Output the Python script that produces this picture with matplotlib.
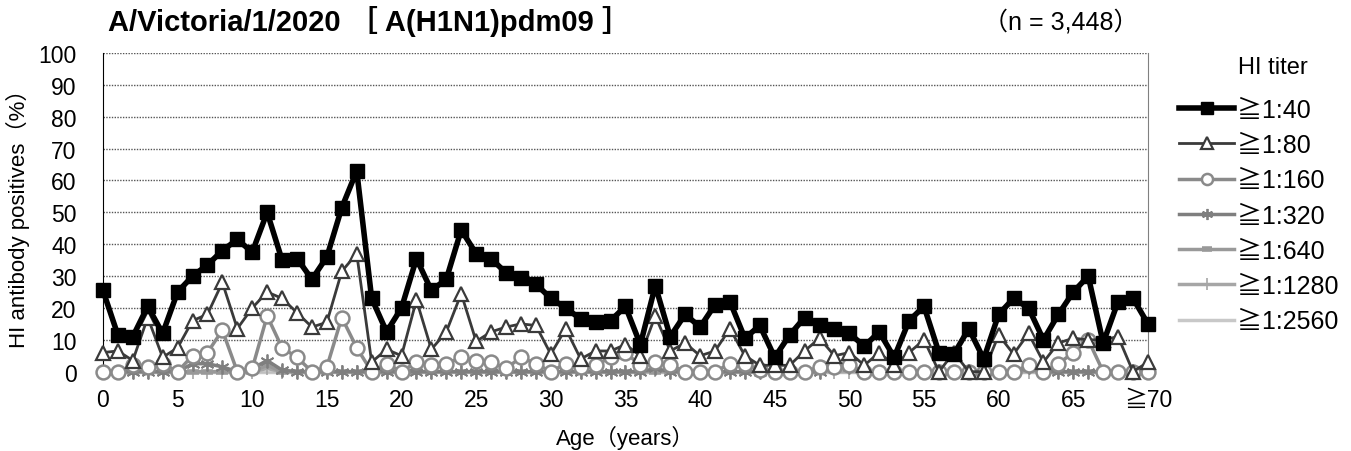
import matplotlib
matplotlib.use("Agg")
import matplotlib.pyplot as plt

plt.rcParams['font.family'] = ['Liberation Sans', 'Noto Sans CJK JP', 'DejaVu Sans']

ages = list(range(71))
tick_pos = [0, 5, 10, 15, 20, 25, 30, 35, 40, 45, 50, 55, 60, 65, 70]
tick_lab = ['0', '5', '10', '15', '20', '25', '30', '35', '40', '45', '50',
            '55', '60', '65', '≧70']

t40 = [25.5, 11.5, 11, 20.5, 12, 25, 30, 33.5, 38, 41.5,
       37.5, 50, 35, 35.5, 29, 36, 51.5, 63, 23, 12.5,
       20, 35.5, 25.5, 29, 44.5, 37, 35.5, 31, 29.5, 27.5,
       23, 20, 16.5, 15.5, 16, 20.5, 8.5, 27, 11, 18,
       14, 21, 22, 10.5, 14.5, 4.5, 11.5, 17, 14.5, 13.5,
       12, 8, 12.5, 4.5, 16, 20.5, 6, 5.5, 13.5, 4,
       18, 23, 20, 10, 18, 25, 30, 9, 22, 23,
       15]
t80 = [6, 6.5, 3.5, 17, 4.5, 7.5, 16, 18, 28, 13.5,
       20, 25, 23, 18.5, 14, 15.5, 31.5, 37, 3, 7,
       5, 22.5, 7, 12.5, 24.5, 9.5, 12.5, 14, 15, 14.5,
       5.5, 13.5, 4, 6.5, 6.5, 8.5, 5, 17.5, 6.5, 9,
       5, 6.5, 13.5, 5, 2, 2, 2, 6.5, 10.5, 5,
       6, 2, 6, 2, 6, 10, 0, 6, 0, 0,
       11.5, 5.5, 12, 3, 9, 10.5, 10, 10, 11, 0,
       3]
t160 = [0, 0, 2, 1.5, 2.5, 0, 5, 6, 13, 0,
        1, 17.5, 7.5, 4.5, 0, 1.5, 17, 7.5, 0, 2.5,
        0, 3, 2, 2.5, 4.5, 3.5, 3, 1, 4.5, 2.5,
        0, 2.5, 1.5, 2, 4.5, 6, 2, 3, 2, 0,
        0, 0, 2.5, 2.5, 0.5, 0, 0, 0, 1.5, 1.5,
        2, 0, 0, 0, 0, 0, 0, 0, 0, 0,
        0, 0, 2, 0, 2.5, 6, 10, 0, 0, 0,
        0]
t320 = [0, 0, 0, 0, 0, 0, 2.5, 2.5, 1.5, 0,
        1, 3.5, 0.5, 0, 0, 0, 0, 0, 0, 0,
        0, 0, 0, 0, 0, 0, 0, 0, 0, 0,
        0, 0, 0, 0, 0, 0, 0, 1, 0, 0,
        0, 0, 0, 0, 0, 0, 0, 0, 0, 1.5,
        1.5, 0, 0, 0, 0, 0, 0, 0, 0, 0,
        0, 0, 1.5, 0, 0, 0, 0, 0, 0, 0,
        0]
t640 = [0, 0, 0, 0, 0, 0, 0, 0, 0, 0,
        0, 2, 0, 0, 0, 0, 0, 0, 0, 0,
        0, 0, 0, 0, 0, 0, 0, 0, 0, 0,
        0, 0, 0, 0, 0, 0, 0, 0, 0, 0,
        0, 0, 0, 0, 0, 0, 0, 0, 0, 1,
        1, 0, 0, 0, 0, 0, 0, 0, 0, 0,
        0, 0, 1, 0, 0, 0, 0, 0, 0, 0,
        0]
t1280 = [0] * 11 + [1] + [0] * 25 + [0.5] + [0] * 33
t2560 = [0] * 71

fig = plt.figure(figsize=(13.51, 4.52), dpi=100)
ax = fig.add_axes([0.0762, 0.1755, 0.7735, 0.705])

asterisk = (6, 2, 0)

# draw from the back (high titers) to the front
ax.plot(ages, t2560, color='#c8c8c8', lw=2.5, label='≧1:2560', zorder=2, clip_on=False)
ax.plot(ages, t1280, color='#a6a6a6', lw=2.5, marker='|', ms=10, mew=1.2,
        label='≧1:1280', zorder=3, clip_on=False)
ax.plot(ages, t640, color='#999999', lw=2.5, marker='_', ms=9, mew=4,
        label='≧1:640', zorder=4, clip_on=False)
ax.plot(ages, t320, color='#7f7f7f', lw=2.5, marker=asterisk, ms=10, mew=1.3,
        label='≧1:320', zorder=5, clip_on=False)
ax.plot(ages, t160, color='#8a8a8a', lw=2.5, marker='o', ms=10, mew=1.8,
        mfc='white', label='≧1:160', zorder=6, clip_on=False)
ax.plot(ages, t80, color='#3a3a3a', lw=2, marker='^', ms=10, mew=1.6,
        mfc='white', label='≧1:80', zorder=7, clip_on=False)
ax.plot(ages, t40, color='black', lw=4, marker='s', ms=10,
        label='≧1:40', zorder=8, clip_on=False)

ax.set_xlim(0, 70)
ax.set_ylim(0, 100)
ax.set_yticks(range(0, 101, 10))
ax.set_xticks(tick_pos)
ax.set_xticklabels(tick_lab)
ax.tick_params(axis='both', length=0, labelsize=16.5)
ax.tick_params(axis='x', pad=12)
ax.tick_params(axis='y', pad=19)
ax.yaxis.grid(True, linestyle=(0, (1, 1)), color='#555555', lw=1)
ax.set_axisbelow(True)
ax.spines['top'].set_visible(False)
ax.spines['left'].set_color('black')
ax.spines['right'].set_color('#808080')
ax.spines['bottom'].set_color('#bfbfbf')

ax.set_xlabel('Age（years）', fontsize=16, labelpad=10)
ax.set_ylabel('HI antibody positives（%）', fontsize=16, labelpad=6)

fig.text(0.08, 0.953, 'A/Victoria/1/2020 ［ A(H1N1)pdm09 ］', fontsize=21,
         fontweight='bold', va='center', ha='left')
fig.text(0.785, 0.952, '（n = 3,448）', fontsize=18, va='center', ha='center')
fig.text(0.942, 0.849, 'HI titer', fontsize=17, va='center', ha='center')

handles, labels = ax.get_legend_handles_labels()
leg = fig.legend(handles[::-1], labels[::-1], loc='upper left',
                 bbox_to_anchor=(1179 / 1351, 0.781), frameon=False, fontsize=18,
                 handlelength=2.2, handletextpad=0.1, borderpad=0,
                 borderaxespad=0, labelspacing=0.45, markerscale=0.8)

fig.savefig('out.png', dpi=100)
